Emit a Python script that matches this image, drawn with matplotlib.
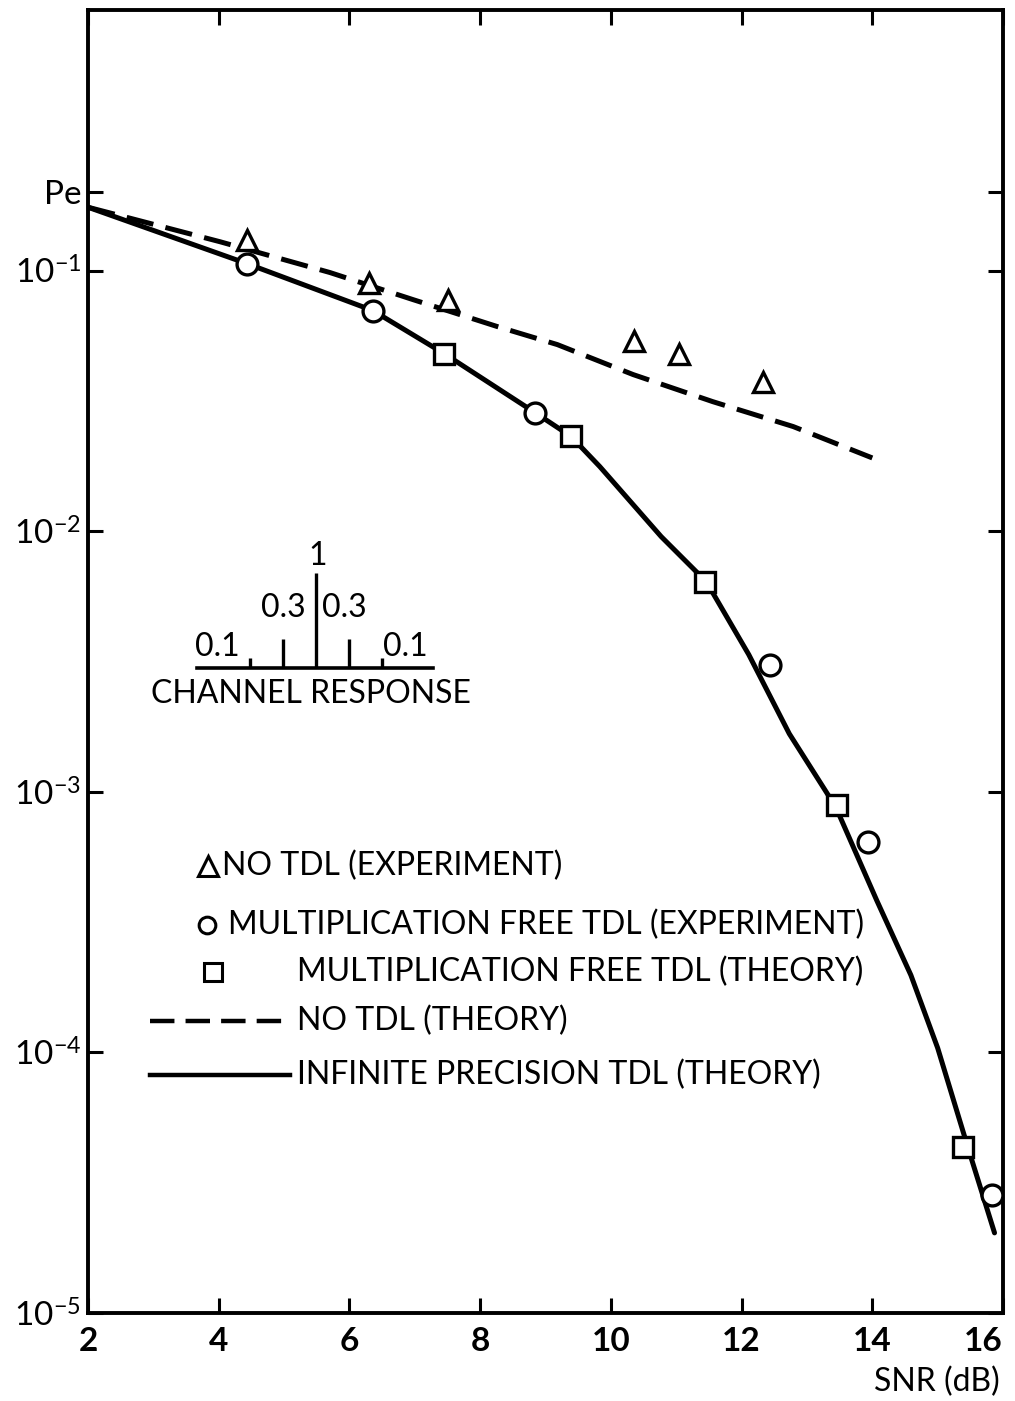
import matplotlib
matplotlib.use("Agg")
import matplotlib.pyplot as plt
from matplotlib.ticker import FixedLocator, NullLocator

plt.rcParams['font.family'] = ['Lato', 'DejaVu Sans']
plt.rcParams['mathtext.fontset'] = 'custom'
plt.rcParams['mathtext.rm'] = 'Lato:bold'
plt.rcParams['mathtext.default'] = 'regular'

# --- data ---
snr_tri = [4.43, 6.30, 7.51, 10.35, 11.04, 12.33]          # NO TDL (experiment)
pe_tri = [0.1315, 0.0899, 0.0774, 0.0538, 0.0480, 0.0375]

snr_circ = [4.43, 6.36, 8.84, 12.43, 13.93, 15.83]         # mult. free TDL (experiment)
pe_circ = [0.1064, 0.0702, 0.0285, 0.00307, 6.43e-4, 2.84e-5]

snr_sq = [7.45, 9.39, 11.44, 13.46, 15.39]                 # mult. free TDL (theory)
pe_sq = [0.0480, 0.0231, 0.0064, 8.9e-4, 4.34e-5]

snr_notdl = [2.0, 4.02, 5.70, 6.97, 8.26, 9.18, 10.34, 11.56, 12.79, 14.0]   # NO TDL (theory)
pe_notdl = [0.175, 0.129, 0.0983, 0.0774, 0.0610, 0.0520, 0.0399, 0.0314, 0.0252, 0.0191]

snr_inf = [2.0, 4.43, 6.36, 7.45, 8.84, 9.39, 9.83, 10.77, 11.46, 12.11,
           12.73, 13.44, 14.07, 14.59, 15.00, 15.46, 15.87]                  # infinite precision TDL
pe_inf = [0.175, 0.1064, 0.0702, 0.0480, 0.0285, 0.0231, 0.0177, 0.00953, 0.0064, 0.00336,
          0.00167, 8.75e-4, 3.82e-4, 1.98e-4, 1.04e-4, 4.34e-5, 2.03e-5]

x_ticks = [2, 4, 6, 8, 10, 12, 14, 16]
y_ticks = [0.2, 1e-1, 1e-2, 1e-3, 1e-4, 1e-5]
y_ticklabels = ['Pe', '$10^{-1}$', '$10^{-2}$', '$10^{-3}$', '$10^{-4}$', '$10^{-5}$']

tap_pos = [-2, -1, 0, 1, 2]
tap_val = [0.1, 0.3, 1.0, 0.3, 0.1]
tap_labels = ['0.1', '0.3', '1', '0.3', '0.1']

legend_labels = ['NO TDL (EXPERIMENT)',
                 'MULTIPLICATION FREE TDL (EXPERIMENT)',
                 'MULTIPLICATION FREE TDL (THEORY)',
                 'NO TDL (THEORY)',
                 'INFINITE PRECISION TDL (THEORY)']

fig = plt.figure(figsize=(10.15, 14.01), dpi=100)
ax = fig.add_axes([0.0867, 0.0628, 0.9015, 0.9301])

lw = 3.6
ax.plot(snr_notdl, pe_notdl, color='black', lw=lw, dashes=(5.5, 2.5), zorder=2)
ax.plot(snr_inf, pe_inf, color='black', lw=lw, solid_capstyle='round',
        solid_joinstyle='round', zorder=2)
mk = dict(color='black', mfc='white', mew=2.4, ms=15, ls='none', zorder=3)
ax.plot(snr_tri, pe_tri, marker='^', **mk)
ax.plot(snr_circ, pe_circ, marker='o', **mk)
ax.plot(snr_sq, pe_sq, marker='s', **mk)

ax.set_yscale('log')
ax.set_xlim(2, 16)
ax.set_ylim(1e-5, 1.0)
ax.xaxis.set_major_locator(FixedLocator(x_ticks))
ax.set_xticklabels([str(t) for t in x_ticks], fontweight='bold')
ax.get_xticklabels()[-1].set_horizontalalignment('right')
ax.yaxis.set_major_locator(FixedLocator(y_ticks))
ax.yaxis.set_minor_locator(NullLocator())
ax.set_yticklabels(y_ticklabels)
ax.tick_params(axis='both', which='major', direction='in', length=11, width=2.2,
               top=True, right=True, labelsize=24)
ax.tick_params(axis='x', pad=10)
ax.tick_params(axis='y', pad=5)
for s in ax.spines.values():
    s.set_linewidth(2.8)

fig.text(0.985, 0.0135, 'SNR (dB)', ha='right', va='center', fontsize=23)

# legend drawn by hand to mimic the original layout
T = ax.transAxes
fs = 23
ax.plot([0.131], [0.343], marker='^', transform=T, clip_on=False, color='black',
        mfc='white', mew=2.2, ms=14)
ax.text(0.146, 0.343, legend_labels[0], transform=T, va='center', fontsize=fs)
ax.plot([0.130], [0.298], marker='o', transform=T, clip_on=False, color='black',
        mfc='white', mew=2.2, ms=12)
ax.text(0.153, 0.298, legend_labels[1], transform=T, va='center', fontsize=fs)
ax.plot([0.137], [0.262], marker='s', transform=T, clip_on=False, color='black',
        mfc='white', mew=2.2, ms=13)
ax.text(0.228, 0.262, legend_labels[2], transform=T, va='center', fontsize=fs)
ax.plot([0.068, 0.221], [0.224, 0.224], transform=T, color='black', lw=3.2, dashes=(5.5, 2.5))
ax.text(0.228, 0.224, legend_labels[3], transform=T, va='center', fontsize=fs)
ax.plot([0.068, 0.221], [0.183, 0.183], transform=T, color='black', lw=3.2)
ax.text(0.228, 0.183, legend_labels[4], transform=T, va='center', fontsize=fs)

# channel response inset
ins = fig.add_axes([0.194, 0.5232, 0.2325, 0.0842])
ins.set_xlim(-3.6, 3.55)
ins.set_ylim(0, 1.24)
ins.axis('off')
ins.vlines(tap_pos, 0, tap_val, color='black', lw=2.4)
ins.axhline(0, color='black', lw=2.6, clip_on=False)
ifs = 23
ins.text(0.05, 1.18, tap_labels[2], ha='center', va='center', fontsize=ifs)
ins.text(-0.3, 0.63, tap_labels[1], ha='right', va='center', fontsize=ifs)
ins.text(0.2, 0.63, tap_labels[3], ha='left', va='center', fontsize=ifs)
ins.text(-2.3, 0.22, tap_labels[0], ha='right', va='center', fontsize=ifs)
ins.text(2.05, 0.22, tap_labels[4], ha='left', va='center', fontsize=ifs)
ins.text(-0.15, -0.27, 'CHANNEL RESPONSE', ha='center', va='center', fontsize=23,
         clip_on=False)

fig.savefig('out.png', dpi=100)
